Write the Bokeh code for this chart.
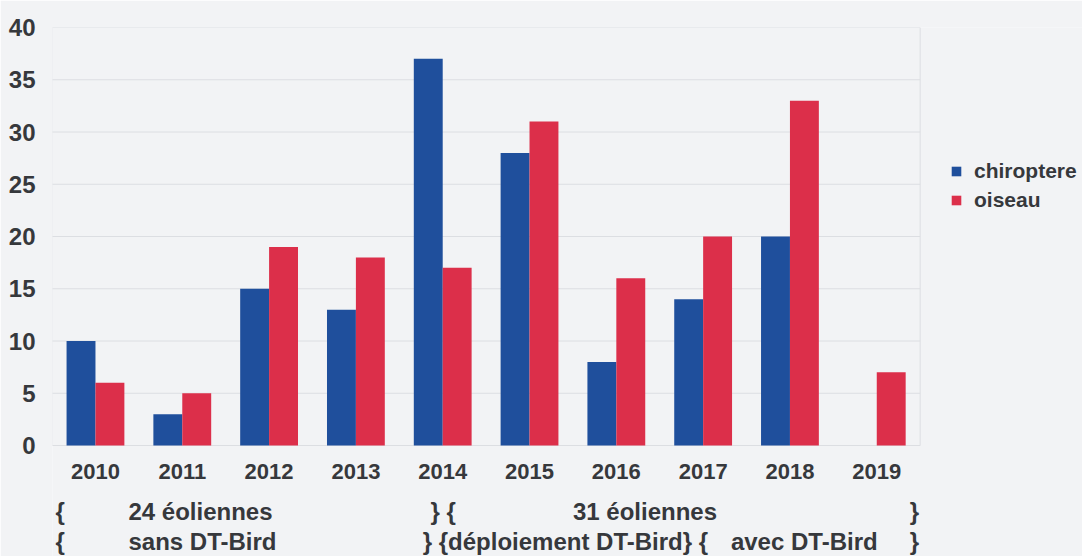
from bokeh.plotting import figure
from bokeh.models import ColumnDataSource, Range1d, FixedTicker, Legend, LegendItem
from bokeh.core.properties import value
from bokeh.embed import file_html
from bokeh.resources import INLINE

years = ["2010", "2011", "2012", "2013", "2014", "2015", "2016", "2017", "2018", "2019"]
chiroptere = [10, 3, 15, 13, 37, 28, 8, 14, 20, 0]
oiseau = [6, 5, 19, 18, 17, 31, 16, 20, 33, 7]
y_ticks = [0, 5, 10, 15, 20, 25, 30, 35, 40]

# annotation rows beneath the axis: (text, x in category units, row)
notes_text = ["{", "24 éoliennes", "} {", "31 éoliennes", "}",
              "{", "sans DT-Bird", "} {déploiement DT-Bird} {", "avec DT-Bird", "}"]
notes_x = [-0.46, 0.38, 3.86, 5.50, 9.38, -0.46, 0.38, 3.77, 7.32, 9.38]
notes_row = [1, 1, 1, 1, 1, 2, 2, 2, 2, 2]

BLUE = "#1f4f9c"
RED = "#dc2f4a"
BG = "#f2f3f5"
GRID = "#dcdee2"
TXT = "#36383c"
FONT = "Liberation Sans"
WEIGHT = "bold"

n = len(years)
idx = list(range(n))
bw = 0.333
x_lo, x_hi = -0.5, 9.5
src = ColumnDataSource(dict(
    xb=[i - bw / 2 for i in idx], xr=[i + bw / 2 for i in idx],
    chiroptere=chiroptere, oiseau=oiseau))

# frame spans the annotation area and the legend area too
p = figure(width=1082, height=556, output_backend="svg", toolbar_location=None,
           x_range=Range1d(-0.495, 11.37), y_range=Range1d(-10.62, 40),
           min_border_left=52, min_border_right=0, min_border_top=27, min_border_bottom=0)
p.background_fill_color = BG
p.border_fill_color = BG
p.outline_line_color = None
p.grid.grid_line_color = None
p.xaxis.visible = False

# grid lines limited to the chart area
p.segment(x0=[x_lo] * len(y_ticks), x1=[x_hi] * len(y_ticks), y0=y_ticks, y1=y_ticks,
          line_color=GRID, line_width=1)
p.segment(x0=[x_lo, x_hi], x1=[x_lo, x_hi], y0=[0, 0], y1=[y_ticks[-1], y_ticks[-1]],
          line_color=GRID, line_width=1)

rb = p.vbar(x="xb", top="chiroptere", width=bw, source=src, fill_color=BLUE, line_color=None)
rr = p.vbar(x="xr", top="oiseau", width=bw, source=src, fill_color=RED, line_color=None)

p.yaxis.ticker = FixedTicker(ticks=y_ticks)
p.yaxis.axis_line_color = None
p.yaxis.major_tick_line_color = None
p.yaxis.minor_tick_line_color = None
p.yaxis.major_label_standoff = 11
p.yaxis.major_label_text_font = FONT
p.yaxis.major_label_text_font_style = WEIGHT
p.yaxis.major_label_text_font_size = "24px"
p.yaxis.major_label_text_color = TXT

# year labels
p.text(x=idx, y=[-2.45] * n, text=years, text_font=value(FONT), text_font_size="22px",
       text_font_style=WEIGHT, text_color=TXT, text_align="center", text_baseline="middle")

row_y = {1: -6.35, 2: -9.2}
p.text(x=notes_x, y=[row_y[r] for r in notes_row], text=notes_text, text_font=value(FONT),
       text_font_size="24px", text_font_style=WEIGHT, text_color=TXT,
       text_align="left", text_baseline="middle")

legend = Legend(items=[LegendItem(label="chiroptere", renderers=[rb]),
                       LegendItem(label="oiseau", renderers=[rr])],
                location=(898, 344))
legend.background_fill_alpha = 0
legend.border_line_color = None
legend.padding = 0
legend.margin = 0
legend.spacing = 5
legend.glyph_width = 12
legend.glyph_height = 12
legend.label_text_font = FONT
legend.label_text_font_style = WEIGHT
legend.label_text_font_size = "21px"
legend.label_text_color = TXT
legend.label_standoff = 12
p.add_layout(legend, "center")

open("out.html", "w").write(file_html(p, INLINE))
